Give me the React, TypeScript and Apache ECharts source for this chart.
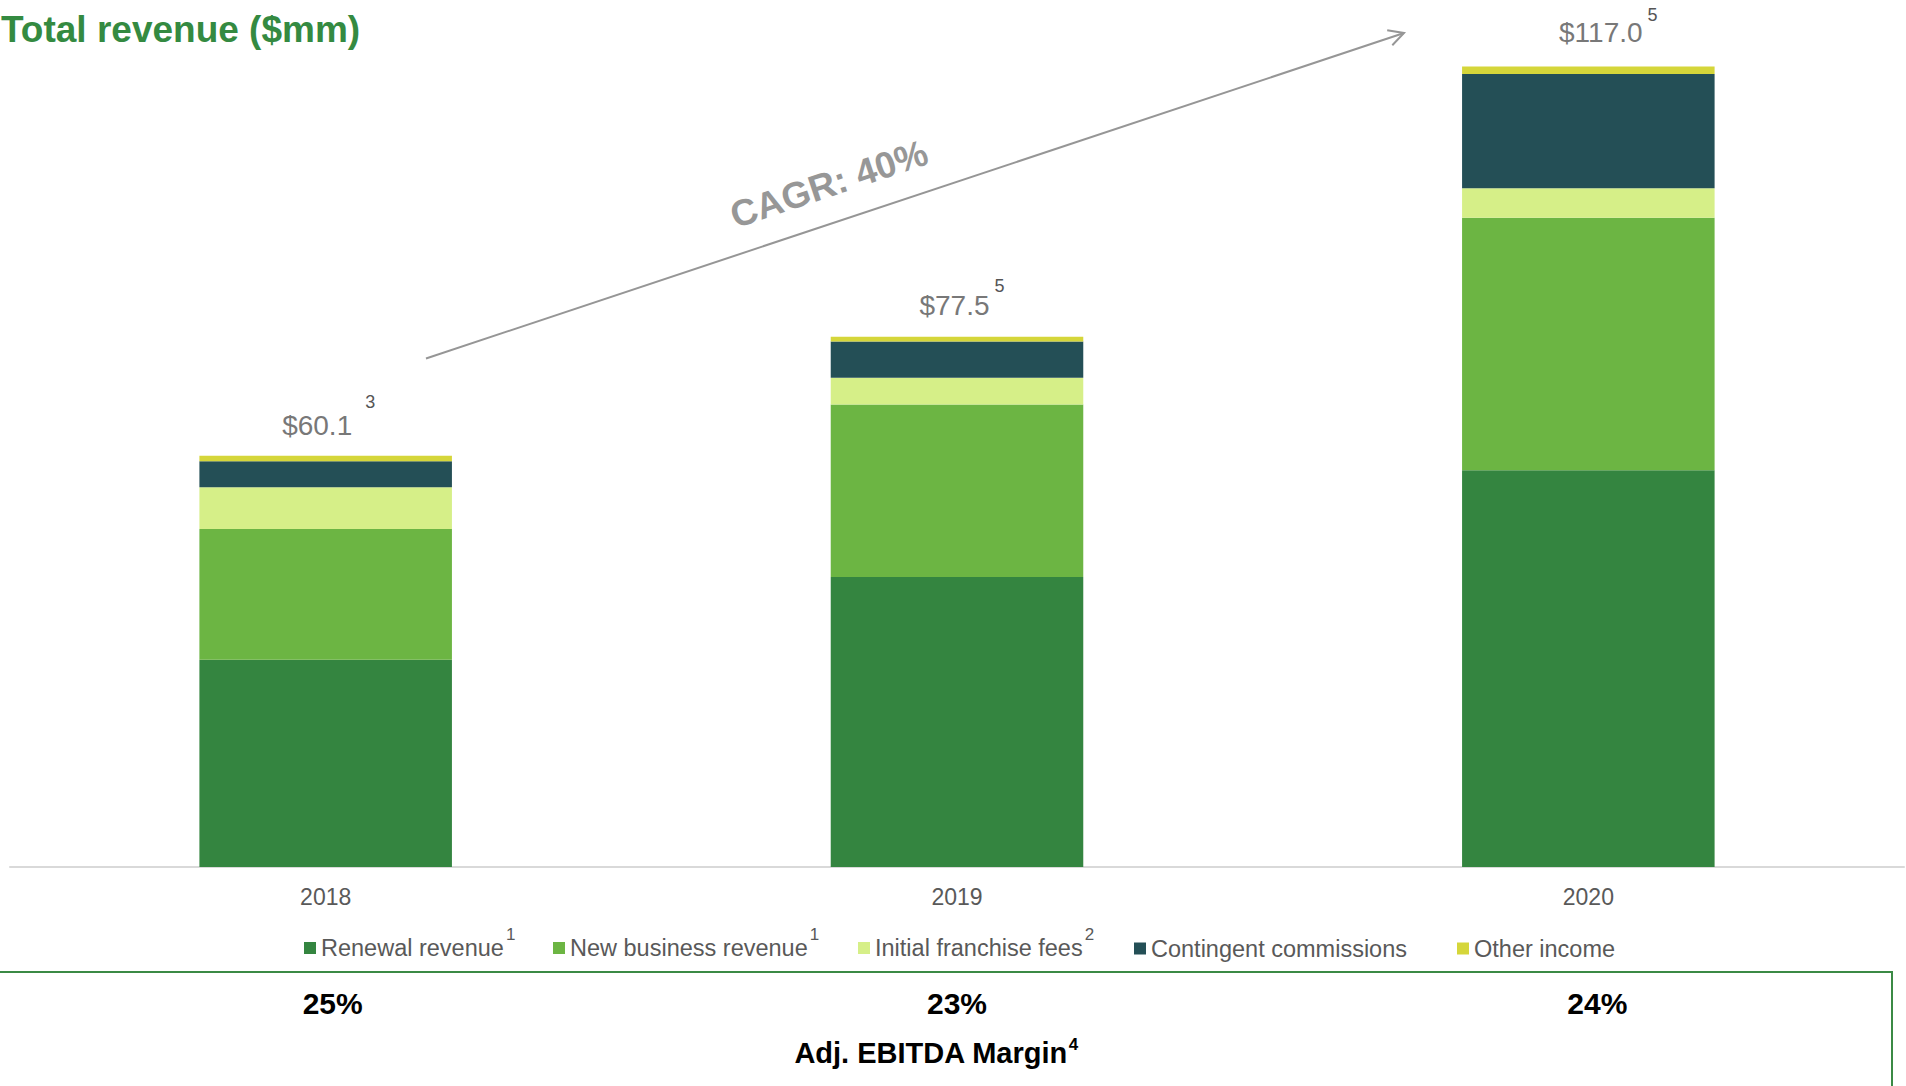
import React, { useEffect, useRef } from 'react';
import * as echarts from 'echarts';

const years = ['2018', '2019', '2020'];
const seriesNames = [
  'Renewal revenue',
  'New business revenue',
  'Initial franchise fees',
  'Contingent commissions',
  'Other income',
];
const legendNotes = ['1', '1', '2', '', ''];
const renewalRevenue = [30.3, 42.4, 58.0];
const newBusinessRevenue = [19.1, 25.2, 36.9];
const initialFranchiseFees = [6.1, 3.9, 4.3];
const contingentCommissions = [3.8, 5.3, 16.7];
const otherIncome = [0.8, 0.7, 1.1];
const totalRevenue = [60.1, 77.5, 117.0];
const totalNotes = ['3', '5', '5'];
const ebitdaMargins = ['25%', '23%', '24%'];
const cagrLabel = 'CAGR: 40%';
const ebitdaTitle = 'Adj. EBITDA Margin';
const ebitdaNote = '4';

const seriesValues = [renewalRevenue, newBusinessRevenue, initialFranchiseFees, contingentCommissions, otherIncome];
const seriesColors = ['#348540', '#6cb543', '#d6ef88', '#244f56', '#d5d63a'];
const legendLeft = [304, 553, 858, 1134, 1457];
const labelShift = [[3, -2.2], [5, -6.9], [20, -12.3]];
const labelLineHeights = [64.6, 57.2, 52.4];
const supGaps = [13, 5, 5];
const marginShiftX = [7, 0, 9];
const FONT = '"Liberation Sans", Arial, Helvetica, sans-serif';

export default function App() {
  const ref = useRef<HTMLDivElement>(null);

  useEffect(() => {
    if (!ref.current) return;
    const chart = echarts.init(ref.current, null, { renderer: 'svg' });

    const labelRich: any = {};
    labelLineHeights.forEach((lh, i) => {
      labelRich['v' + i] = { fontSize: 28, lineHeight: lh, color: '#787878', fontFamily: FONT };
      labelRich['s' + i] = {
        fontSize: 18, lineHeight: 18, verticalAlign: 'top', color: '#555555',
        fontFamily: FONT, padding: [0, 0, 0, supGaps[i]],
      };
    });

    const series = seriesNames.map((name, si) => {
      const isTop = si === seriesNames.length - 1;
      return {
        name,
        type: 'bar',
        stack: 'total',
        barWidth: '40%',
        itemStyle: { color: seriesColors[si] },
        emphasis: { disabled: true },
        data: seriesValues[si].map((v, i) =>
          isTop ? { value: v, label: { offset: labelShift[i] } } : v
        ),
        label: isTop
          ? {
              show: true,
              position: 'top',
              distance: -4,
              formatter: (p: any) =>
                `{v${p.dataIndex}|$${totalRevenue[p.dataIndex].toFixed(1)}}{s${p.dataIndex}|${totalNotes[p.dataIndex]}}`,
              rich: labelRich,
            }
          : { show: false },
      };
    });

    const legends = seriesNames.map((name, i) => ({
      data: [name],
      left: legendLeft[i],
      top: legendNotes[i] ? 925.5 : 936.5,
      padding: 0,
      icon: 'rect',
      itemWidth: 12,
      itemHeight: 12,
      formatter: (n: string) =>
        legendNotes[i] ? `{n|${n}}{s|${legendNotes[i]}}` : `{n|${n}}`,
      textStyle: {
        color: '#595959',
        fontFamily: FONT,
        fontSize: 23.5,
        rich: {
          n: { fontSize: 23.5, lineHeight: 45, color: '#595959', fontFamily: FONT },
          s: { fontSize: 17, lineHeight: 17, verticalAlign: 'top', color: '#595959', fontFamily: FONT, padding: [0, 0, 0, 2] },
        },
      },
    }));

    chart.setOption({
      animation: false,
      backgroundColor: '#ffffff',
      title: {
        text: 'Total revenue ($mm)',
        left: 1,
        top: 11,
        padding: 0,
        textStyle: { fontSize: 37, fontWeight: 'bold', color: '#348a41', fontFamily: FONT },
      },
      legend: legends,
      grid: { left: 10, right: 2, top: 46, bottom: 219, containLabel: false },
      xAxis: {
        type: 'category',
        data: years,
        axisTick: { show: false },
        axisLine: { lineStyle: { color: '#d9d9d9', width: 2 } },
        axisLabel: { color: '#595959', fontSize: 23, fontFamily: FONT, margin: 18 },
      },
      yAxis: { type: 'value', min: 0, max: 120, show: false, splitLine: { show: false } },
      series,
    });

    const xs = years.map((y) => chart.convertToPixel({ xAxisIndex: 0 }, y) as number);

    const tip = [1404, 33];
    const graphic: any[] = [
      {
        type: 'line',
        shape: { x1: 426, y1: 358.5, x2: tip[0], y2: tip[1] },
        style: { stroke: '#969696', lineWidth: 2 },
        silent: true,
      },
      {
        type: 'polyline',
        shape: { points: [[1387.2, 30.2], tip, [1392.3, 45.3]] },
        style: { stroke: '#969696', lineWidth: 2, fill: null },
        silent: true,
      },
      {
        type: 'text',
        x: 829,
        y: 184,
        rotation: (18.5 * Math.PI) / 180,
        style: {
          text: cagrLabel,
          fontSize: 37,
          fontWeight: 'bold',
          fill: '#979797',
          fontFamily: FONT,
          align: 'center',
          verticalAlign: 'middle',
        },
        silent: true,
      },
      {
        type: 'rect',
        shape: { x: -5, y: 972, width: 1897, height: 200 },
        style: { fill: null, stroke: '#3b8a45', lineWidth: 2 },
        silent: true,
      },
      ...ebitdaMargins.map((m, i) => ({
        type: 'text',
        x: xs[i] + marginShiftX[i],
        y: 1003,
        style: {
          text: m,
          fontSize: 30,
          fontWeight: 'bold',
          fill: '#000000',
          fontFamily: FONT,
          align: 'center',
          verticalAlign: 'middle',
        },
        silent: true,
      })),
      {
        type: 'text',
        x: 936,
        y: 1053,
        style: {
          text: `{m|${ebitdaTitle}}{s|${ebitdaNote}}`,
          align: 'center',
          verticalAlign: 'middle',
          rich: {
            m: { fontSize: 29, fontWeight: 'bold', fill: '#000000', color: '#000000', fontFamily: FONT, lineHeight: 34 },
            s: { fontSize: 17, fontWeight: 'bold', fill: '#000000', color: '#000000', fontFamily: FONT, lineHeight: 17, verticalAlign: 'top', padding: [0, 0, 0, 1] },
          },
        },
        silent: true,
      },
    ];
    chart.setOption({ graphic });

    return () => chart.dispose();
  }, []);

  return (
    <div
      ref={ref}
      style={{ position: 'absolute', left: 0, top: 0, width: 1906, height: 1086, background: '#fff' }}
    />
  );
}
